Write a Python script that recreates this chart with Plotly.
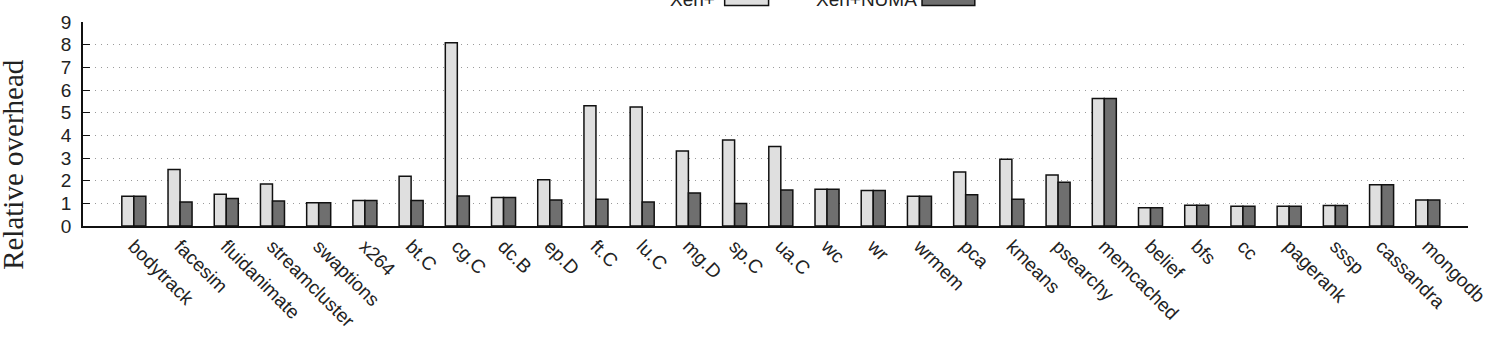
import plotly.graph_objects as go

categories = ["bodytrack", "facesim", "fluidanimate", "streamcluster", "swaptions", "x264",
              "bt.C", "cg.C", "dc.B", "ep.D", "ft.C", "lu.C", "mg.D", "sp.C", "ua.C",
              "wc", "wr", "wrmem", "pca", "kmeans", "psearchy", "memcached",
              "belief", "bfs", "cc", "pagerank", "sssp", "cassandra", "mongodb"]
xen_plus = [1.31, 2.49, 1.40, 1.85, 1.03, 1.13, 2.19, 8.09, 1.26, 2.04, 5.31, 5.25, 3.31, 3.79, 3.51,
            1.62, 1.57, 1.31, 2.38, 2.94, 2.25, 5.62, 0.81, 0.91, 0.87, 0.87, 0.90, 1.82, 1.15]
xen_numa = [1.31, 1.06, 1.21, 1.10, 1.03, 1.13, 1.12, 1.32, 1.26, 1.15, 1.18, 1.06, 1.46, 0.99, 1.59,
            1.62, 1.57, 1.31, 1.38, 1.18, 1.93, 5.62, 0.81, 0.91, 0.87, 0.87, 0.90, 1.82, 1.15]
y_ticks = [0, 1, 2, 3, 4, 5, 6, 7, 8, 9]
series_names = ["Xen+", "Xen+NUMA"]
y_title = "Relative overhead"

LIGHT = "#dfdfdf"
DARK = "#6f6f6f"
FONT = "Liberation Sans, Arial, Helvetica, sans-serif"
SERIF = "Liberation Serif, Times New Roman, serif"

fig = go.Figure()
fig.add_trace(go.Bar(x=categories, y=xen_plus, name=series_names[0],
                     marker=dict(color=LIGHT, line=dict(color="#111", width=1.5))))
fig.add_trace(go.Bar(x=categories, y=xen_numa, name=series_names[1],
                     marker=dict(color=DARK, line=dict(color="#111", width=1.5))))

fig.update_layout(
    width=1501, height=359,
    margin=dict(l=83, r=28, t=21, b=132.5),
    paper_bgcolor="white", plot_bgcolor="white",
    barmode="group", bargap=0.48, bargroupgap=0,
    showlegend=False,
    font=dict(family=FONT, size=18, color="#222"),
)
fig.update_xaxes(
    range=[-1.1, 28.87], tickangle=45, showgrid=False,
    showline=True, linecolor="#111", linewidth=1.5,
    ticks="", tickfont=dict(size=19, family=FONT, color="#222"),
)
fig.update_yaxes(
    range=[0, 9], tickvals=y_ticks, showgrid=True, gridcolor="#9a9a9a", griddash="1px,5px",
    gridwidth=1, zeroline=False,
    showline=True, linecolor="#111", linewidth=1.5,
    ticks="inside", ticklen=7, tickcolor="#111", tickwidth=1.2,
    ticklabelstandoff=6,
    tickfont=dict(size=19, family=FONT, color="#222"),
)

# y-axis title placed as in the reference (shifted below the plot centre)
fig.add_annotation(xref="paper", yref="paper", x=-0.0505, y=0.3,
                   text=y_title, textangle=-90, showarrow=False,
                   xanchor="center", yanchor="middle",
                   font=dict(family=SERIF, size=29, color="#222"))

# Legend (text followed by a swatch), partly above the visible page like the reference
legend_items = [(series_names[0], LIGHT, 0.4575, 0.4633, 0.4950),
                (series_names[1], DARK, 0.6036, 0.6058, 0.6439)]
for name, col, tx, x0, x1 in legend_items:
    fig.add_annotation(xref="paper", yref="paper", x=tx, y=1.11, text=name, showarrow=False,
                       xanchor="right", yanchor="middle", font=dict(size=19, family=FONT, color="#222"))
    fig.add_shape(type="rect", xref="paper", yref="paper", x0=x0, x1=x1, y0=1.0803, y1=1.1606,
                  fillcolor=col, line=dict(color="#111", width=1.5))

fig.write_html("out.html")
